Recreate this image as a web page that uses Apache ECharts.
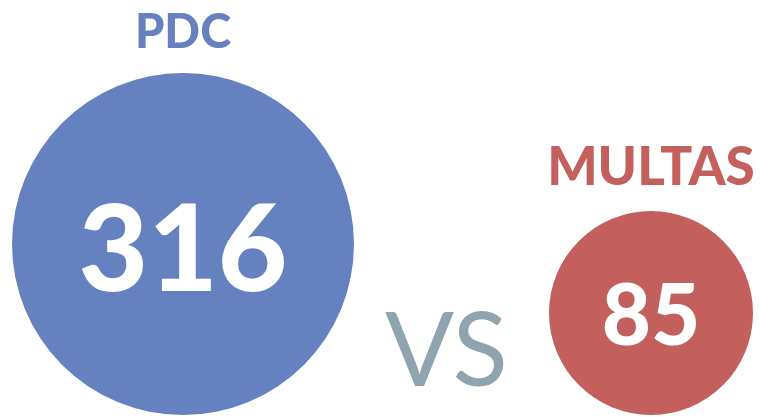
<!DOCTYPE html>
<html><head><meta charset="utf-8">
<script src="https://cdn.jsdelivr.net/npm/echarts@6/dist/echarts.min.js"></script>
<style>html,body{margin:0;padding:0;background:#fff}#c{width:760px;height:417px}</style>
</head><body><div id="c"></div>
<script>
const categories = ['PDC', 'MULTAS'];
const values = [316, 85];
const colors = ['#6581C0', '#C3605E'];
const vsText = 'VS';

const chart = echarts.init(document.getElementById('c'));
const minV = Math.min(...values), maxV = Math.max(...values);
function sizeOf(v) { return 204 + (v - minV) / (maxV - minV) * (342 - 204); }
const valueFont = [120, 85];
const valueShift = [8, 5];
const nameFont = [47, 53];

chart.setOption({
  animation: false,
  grid: { left: 183, right: 109, top: 0, bottom: 2 },
  xAxis: { type: 'category', data: categories, boundaryGap: false, show: false },
  yAxis: { type: 'value', min: 0, max: 1, show: false },
  graphic: [{
    type: 'text', left: 385, top: 302,
    style: { text: vsText, font: '400 102px Lato', fill: '#8FA4AE' }
  }],
  series: [{
    type: 'scatter',
    data: values.map((v, i) => ({
      value: [categories[i], 0],
      symbolSize: sizeOf(v),
      symbolOffset: [0, '-50%'],
      itemStyle: { color: colors[i], opacity: 1 },
      label: { show: true, position: 'inside', formatter: String(v), color: '#fff',
        offset: [0, valueShift[i]],
        fontFamily: 'Lato', fontWeight: 900, fontSize: valueFont[i] }
    })),
    silent: true
  }, {
    type: 'scatter',
    data: values.map((v, i) => ({
      value: [categories[i], 0],
      symbolSize: sizeOf(v),
      symbolOffset: [0, '-50%'],
      itemStyle: { color: 'rgba(0,0,0,0)', opacity: 1 },
      label: { show: true, position: 'top', distance: 17, formatter: categories[i],
        color: colors[i], fontFamily: 'Lato', fontWeight: 900, fontSize: nameFont[i] }
    })),
    silent: true
  }]
});
</script></body></html>
